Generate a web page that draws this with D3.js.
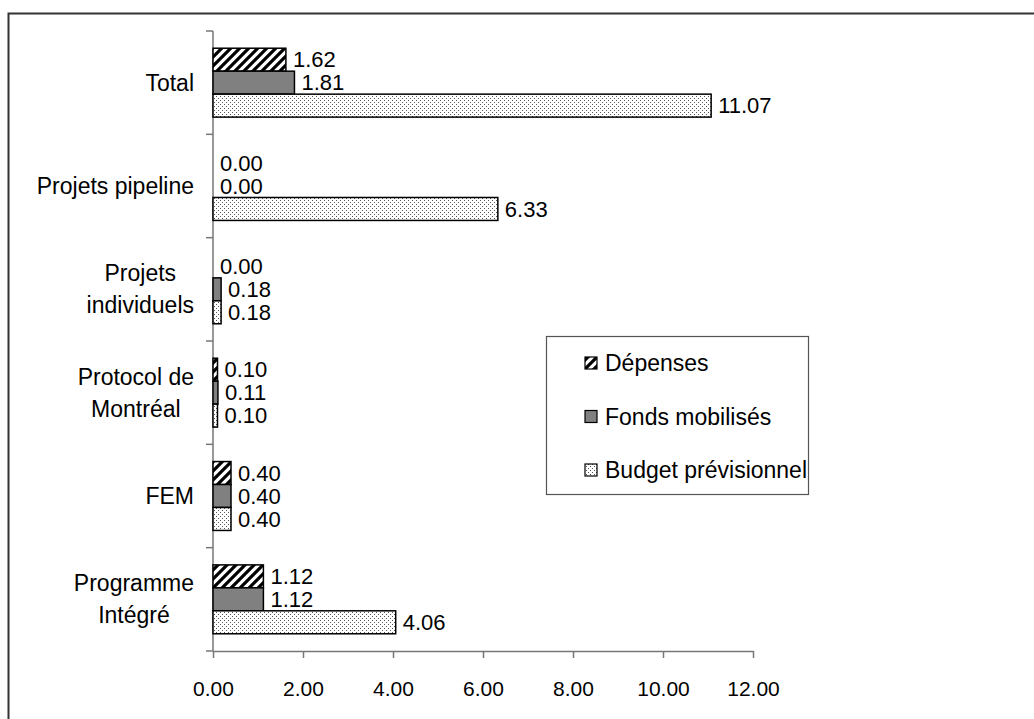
<!DOCTYPE html>
<html>
<head>
<meta charset="utf-8">
<script src="https://cdn.jsdelivr.net/npm/d3@7"></script>
<style>
  html, body { margin: 0; padding: 0; background: #fff; }
  svg text { font-family: "Liberation Sans", Arial, Helvetica, sans-serif; fill: #000; }
</style>
</head>
<body>
<svg id="chart" width="1034" height="719"></svg>
<script>
// Categories, top to bottom, with their wrapped label lines
const categories = ["Total", "Projets pipeline", "Projets individuels", "Protocol de Montréal", "FEM", "Programme Intégré"];
const categoryLines = [["Total"], ["Projets pipeline"], ["Projets", "individuels"], ["Protocol de", "Montréal"], ["FEM"], ["Programme", "Intégré"]];

// Series values (millions)
const seriesNames = ["Dépenses", "Fonds mobilisés", "Budget prévisionnel"];
const depenses = [1.62, 0.00, 0.00, 0.10, 0.40, 1.12];
const fondsMobilises = [1.81, 0.00, 0.18, 0.11, 0.40, 1.12];
const budgetPrevisionnel = [11.07, 6.33, 0.18, 0.10, 0.40, 4.06];

// Axis ticks
const xTicks = [0, 2, 4, 6, 8, 10, 12];

const seriesValues = [depenses, fondsMobilises, budgetPrevisionnel];
const fills = ["url(#hatch)", "#808080", "url(#dots)"];

const svg = d3.select("#chart");

// Patterns
const defs = svg.append("defs");
const hatch = defs.append("pattern")
  .attr("id", "hatch").attr("patternUnits", "userSpaceOnUse")
  .attr("width", 9).attr("height", 9);
hatch.append("rect").attr("width", 9).attr("height", 9).attr("fill", "#fff");
hatch.append("path")
  .attr("d", "M-2,11 L11,-2 M-2,2 L2,-2 M7,11 L11,7")
  .attr("stroke", "#000").attr("stroke-width", 3.2);

const dots = defs.append("pattern")
  .attr("id", "dots").attr("patternUnits", "userSpaceOnUse")
  .attr("width", 4).attr("height", 4);
dots.append("rect").attr("width", 4).attr("height", 4).attr("fill", "#fff");
dots.append("rect").attr("x", 0).attr("y", 0).attr("width", 1).attr("height", 1).attr("fill", "#555");
dots.append("rect").attr("x", 2).attr("y", 2).attr("width", 1).attr("height", 1).attr("fill", "#555");

// Outer frame
svg.append("rect")
  .attr("x", 8.5).attr("y", 13.5).attr("width", 1060).attr("height", 740)
  .attr("fill", "none").attr("stroke", "#333").attr("stroke-width", 2);

// Scales
const x = d3.scaleLinear().domain([0, 12]).range([213, 753]);
const y0 = d3.scaleBand().domain(categories).range([31, 651]).padding(0);
const y1 = d3.scaleBand().domain(seriesNames).range([0, y0.bandwidth()]).paddingInner(0).paddingOuter(0.75);

// X axis
const xAxis = svg.append("g")
  .attr("transform", "translate(0,651)")
  .call(d3.axisBottom(x).tickValues(xTicks).tickFormat(d3.format(".2f")).tickSize(7).tickSizeOuter(0).tickPadding(23));
xAxis.select(".domain").attr("stroke", "#777").attr("stroke-width", 1.5);
xAxis.selectAll(".tick line").attr("stroke", "#777").attr("stroke-width", 1.5);
xAxis.selectAll(".tick text").attr("font-size", 21).attr("fill", "#000")
  .attr("font-family", "Liberation Sans, Arial, sans-serif");

// Y axis: line with tick marks at category boundaries
const yAxis = svg.append("g");
yAxis.append("line")
  .attr("x1", x(0)).attr("x2", x(0))
  .attr("y1", y0.range()[0]).attr("y2", y0.range()[1])
  .attr("stroke", "#777").attr("stroke-width", 1.5);
const boundaries = categories.map(c => y0(c)).concat([y0.range()[1]]);
yAxis.selectAll("line.tick").data(boundaries).join("line")
  .attr("class", "tick")
  .attr("x1", x(0) - 7).attr("x2", x(0))
  .attr("y1", d => d).attr("y2", d => d)
  .attr("stroke", "#777").attr("stroke-width", 1.5);

// Category labels (centred lines, block right-aligned near the axis)
const labelRight = 194;
const lineH = 32;
categories.forEach((c, i) => {
  const lines = categoryLines[i];
  const g = svg.append("g");
  const cy = y0(c) + y0.bandwidth() / 2;
  const t = g.append("text").attr("font-size", 23).attr("text-anchor", "middle");
  lines.forEach((ln, j) => {
    t.append("tspan").attr("x", 0)
      .attr("y", cy + (j - (lines.length - 1) / 2) * lineH)
      .attr("dy", "0.35em").text(ln);
  });
  const w = t.node().getBBox().width;
  t.attr("transform", `translate(${labelRight - w / 2},0)`);
});

// Bars and value labels
const rows = [];
categories.forEach((c, i) => {
  seriesNames.forEach((s, k) => {
    rows.push({ cat: c, series: s, k, value: seriesValues[k][i] });
  });
});

const barG = svg.append("g");
barG.selectAll("rect").data(rows).join("rect")
  .attr("x", x(0))
  .attr("y", d => y0(d.cat) + y1(d.series))
  .attr("width", d => x(d.value) - x(0))
  .attr("height", y1.bandwidth())
  .attr("fill", d => fills[d.k])
  .attr("stroke", d => d.value > 0 ? "#000" : "none")
  .attr("stroke-width", 1.5);

barG.selectAll("text").data(rows).join("text")
  .attr("x", d => x(d.value) + 7)
  .attr("y", d => y0(d.cat) + y1(d.series) + y1.bandwidth() / 2)
  .attr("dy", "0.35em")
  .attr("font-size", 22)
  .text(d => d3.format(".2f")(d.value));

// Legend
const legend = svg.append("g");
legend.append("rect")
  .attr("x", 546.5).attr("y", 336.5).attr("width", 262).attr("height", 158)
  .attr("fill", "#fff").attr("stroke", "#555").attr("stroke-width", 1.2);
seriesNames.forEach((s, k) => {
  const cy = 363 + k * 53.5;
  legend.append("rect")
    .attr("x", 585).attr("y", cy - 6).attr("width", 12).attr("height", 12)
    .attr("fill", fills[k]).attr("stroke", "#000").attr("stroke-width", 1.2);
  legend.append("text")
    .attr("x", 605).attr("y", cy).attr("dy", "0.35em")
    .attr("font-size", 23).text(s);
});
</script>
</body>
</html>
